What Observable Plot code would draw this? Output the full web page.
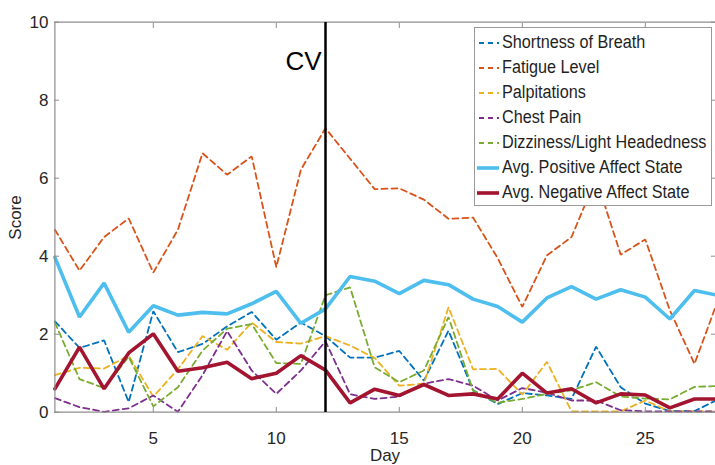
<!DOCTYPE html>
<html><head><meta charset="utf-8">
<script src="https://cdn.jsdelivr.net/npm/d3@7"></script>
<script src="https://cdn.jsdelivr.net/npm/@observablehq/plot@0.6"></script>
<style>
body{margin:0;background:#fff;font-family:"Liberation Sans",Arial,sans-serif;}
#wrap{position:relative;width:715px;height:465px;overflow:hidden;}
#legend{position:absolute;left:474px;top:27px;width:238px;height:179px;border:1px solid #9a9a9a;background:#fff;box-sizing:border-box;}
.item{position:absolute;left:2px;height:24px;display:flex;align-items:center;white-space:nowrap;}
.item span{font-size:18px;color:#1f1f1f;display:inline-block;transform:scaleX(0.9);transform-origin:left center;margin-left:3px;}
</style></head><body><div id="wrap"></div>
<script>
// ---- data ----
const days = [1,2,3,4,5,6,7,8,9,10,11,12,13,14,15,16,17,18,19,20,21,22,23,24,25,26,27,28];
const shortnessOfBreath = [2.33,1.65,1.84,0.26,2.59,1.54,1.75,2.2,2.57,1.86,2.3,1.95,1.4,1.4,1.57,0.81,2.09,0.56,0.21,0.49,0.43,0.34,1.68,0.64,0.22,0.03,0.03,0.34];
const fatigueLevel = [4.68,3.63,4.49,4.97,3.58,4.68,6.64,6.09,6.56,3.72,6.22,7.28,6.5,5.72,5.74,5.45,4.96,4.99,3.95,2.7,4.02,4.49,6.0,4.04,4.43,2.61,1.24,2.95];
const palpitations = [0.95,1.14,1.12,1.45,0.4,1.1,1.95,1.6,2.3,1.8,1.76,1.95,1.71,1.39,0.68,0.73,2.69,1.1,1.11,0.45,1.29,0.02,0.02,0.02,0.3,0.02,0.02,0.02];
const chestPain = [0.36,0.13,0.01,0.1,0.43,0.01,0.95,2.08,1.07,0.47,1.07,1.82,0.46,0.34,0.4,0.73,0.85,0.68,0.3,0.62,0.5,0.3,0.3,0.05,0.02,0.02,0.02,0.02];
const dizziness = [2.3,0.85,0.62,1.42,0.15,0.64,1.58,2.14,2.26,1.26,1.24,3.0,3.2,1.15,0.77,1.07,2.44,0.55,0.24,0.34,0.47,0.56,0.77,0.4,0.35,0.33,0.65,0.67];
const avgPositive = [3.97,2.44,3.31,2.05,2.73,2.49,2.56,2.52,2.78,3.1,2.28,2.65,3.48,3.36,3.04,3.38,3.27,2.9,2.71,2.31,2.93,3.22,2.9,3.14,2.95,2.39,3.12,2.99];
const avgNegative = [0.6,1.67,0.6,1.52,2.01,1.05,1.14,1.28,0.86,1.0,1.45,1.08,0.24,0.59,0.43,0.71,0.43,0.47,0.34,1.0,0.49,0.6,0.24,0.47,0.44,0.11,0.34,0.34];
const seriesNames = ["Shortness of Breath","Fatigue Level","Palpitations","Chest Pain","Dizziness/Light Headedness","Avg. Positive Affect State","Avg. Negative Affect State"];
const xTicks = [5,10,15,20,25];
const yTicks = [0,2,4,6,8,10];
const cvDay = [12];
const cvLabel = "CV";

// ---- styles ----
const seriesValues = [shortnessOfBreath,fatigueLevel,palpitations,chestPain,dizziness,avgPositive,avgNegative];
const colors = ["#0072BD","#D95319","#EDB120","#7E2F8E","#77AC30","#4DBEEE","#A2142F"];
const widths = [1.8,1.8,1.8,1.8,1.8,3.6,3.6];
const dashes = ["6,4","6,4","6,4","6,4","6,4",null,null];

const series = seriesNames.map((name,k)=>({name, color:colors[k], width:widths[k], dash:dashes[k],
  rows: days.map((d,i)=>({day:d, score:seriesValues[k][i]}))}));

const axisColor = "#8e8e8e";
const plot = Plot.plot({
  width:715, height:465,
  marginLeft:54, marginRight:0, marginTop:22, marginBottom:53,
  x:{domain:[1,28], range:[54.4,718.6]},
  y:{domain:[0,10], range:[411.7,21.7]},
  style:{fontFamily:"Liberation Sans, Arial, sans-serif", fontSize:"17px", color:"#262626", background:"#fff"},
  marks:[
    ...series.map(s=>Plot.line(s.rows,{x:"day",y:"score",stroke:s.color,strokeWidth:s.width,strokeDasharray:s.dash,strokeLinejoin:"miter"})),
    Plot.ruleY([0],{stroke:axisColor,strokeWidth:1.2}),
    Plot.ruleY([10],{stroke:axisColor,strokeWidth:1.2}),
    Plot.ruleX([1],{stroke:axisColor,strokeWidth:1.2}),
    Plot.axisX(xTicks,{anchor:"bottom",tickSize:5,dy:-5,tickFormat:()=>"",label:null,stroke:axisColor}),
    Plot.axisX(xTicks,{anchor:"top",tickSize:5,dy:5,tickFormat:()=>"",label:null,stroke:axisColor}),
    Plot.axisY(yTicks,{anchor:"left",tickSize:5,dx:5,tickFormat:()=>"",label:null,stroke:axisColor}),
    Plot.axisY(yTicks,{anchor:"right",tickSize:5,dx:-5,tickFormat:()=>"",label:null,stroke:axisColor}),
    Plot.axisX(xTicks,{anchor:"bottom",tickSize:0,tickPadding:19,label:"Day",labelAnchor:"center",labelOffset:48,labelArrow:"none",fill:"#262626"}),
    Plot.axisY(yTicks,{anchor:"left",tickSize:0,tickPadding:6,label:"Score",labelAnchor:"center",labelOffset:46,labelArrow:"none",fill:"#262626"}),
    Plot.ruleX(cvDay,{stroke:"#000",strokeWidth:2.5}),
    Plot.text(cvDay,{x:d=>d,y:()=>9.0,text:()=>cvLabel,textAnchor:"end",dx:-4,fontSize:26,fill:"#000"})
  ]
});
const wrap = document.getElementById("wrap");
wrap.appendChild(plot);

// legend (HTML)
const legend = document.createElement("div");
legend.id = "legend";
series.forEach((s,i)=>{
  const it = document.createElement("div");
  it.className = "item";
  it.style.top = (2.7 + 25*i) + "px";
  const ns = "http://www.w3.org/2000/svg";
  const sv = document.createElementNS(ns,"svg");
  sv.setAttribute("width","22"); sv.setAttribute("height","24");
  const ln = document.createElementNS(ns,"line");
  ln.setAttribute("x1", s.dash ? "2" : "0"); ln.setAttribute("x2","22");
  ln.setAttribute("y1","12"); ln.setAttribute("y2","12");
  ln.setAttribute("stroke", s.color); ln.setAttribute("stroke-width", s.dash ? 1.8 : 3.6);
  if (s.dash) ln.setAttribute("stroke-dasharray","5,4");
  sv.appendChild(ln);
  const tx = document.createElement("span");
  tx.textContent = s.name;
  it.appendChild(sv); it.appendChild(tx);
  legend.appendChild(it);
});
wrap.appendChild(legend);
</script>
</body></html>
